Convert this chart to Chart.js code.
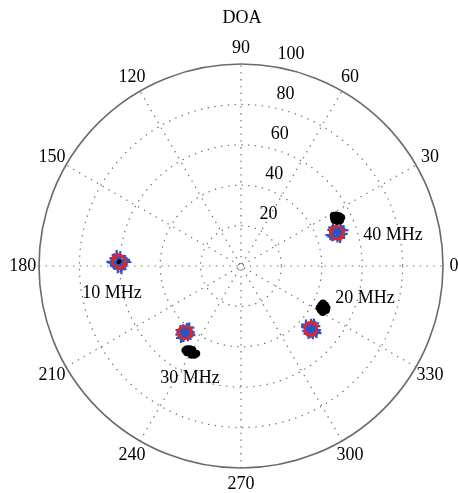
<!DOCTYPE html>
<html>
<head>
<meta charset="utf-8">
<script src="https://cdn.jsdelivr.net/npm/chart.js@4/dist/chart.umd.min.js"></script>
<style>
  html, body { margin: 0; padding: 0; background: #fff; }
  #wrap { width: 458px; height: 493px; position: relative; }
</style>
</head>
<body>
<div id="wrap"><canvas id="doaChart"></canvas></div>
<script>
// Data: [angle in degrees, radius]
const angleTicks = [0, 30, 60, 90, 120, 150, 180, 210, 240, 270, 300, 330];
const ringTicks = [20, 40, 60, 80, 100];

// blue '+' estimates
const bluePts = [
    [178, 60.4], [176, 61.5], [180, 59], [177, 58], [179.5, 62.5], [175.5, 60],
    [181, 61], [178.5, 63.5], [177, 57.5], [180.5, 59.5], [176.5, 62.8], [179, 58.6],
    [175, 61.8], [181.5, 59.2], [178, 56.8], [178.2, 64.2],
    [19, 50.3], [17, 51.5], [21, 49.5], [18, 48], [20.5, 52.5], [16.5, 49.8],
    [22, 51], [19.5, 53], [18, 47.5], [21.5, 48.6], [17.5, 52.8], [20, 50.8],
    [15.8, 51], [22.6, 49.4], [19, 46.8], [19.2, 53.8],
    [318, 46.6], [316, 47.8], [320, 45.5], [317, 44.5], [319.5, 48.8], [315.5, 46],
    [321, 47.3], [318.5, 49.2], [317, 44], [320.5, 45], [316.5, 49], [319, 46.9],
    [314.8, 47.4], [321.8, 46], [318, 43.3], [318.4, 50],
    [230, 43], [228, 44.2], [232, 42], [229, 41], [231, 45.2], [227.5, 42.5],
    [233, 43.6], [230.5, 45.6], [229, 40.5], [232.5, 41.5], [228.5, 45.3], [231, 43.3],
    [226.6, 43.6], [233.8, 42.4], [230, 39.8], [230.2, 46.4]
];

// red 'o' true directions
const redPts = [
    [178, 60.4], [177.5, 60.8], [178.5, 60],
    [19, 50.3], [18.5, 50.6], [19.5, 50],
    [318, 46.6], [317.5, 46.9], [318.5, 46.3],
    [230, 43], [229.5, 43.3], [230.5, 42.7]
];

// black raw estimates
const blackPts = [
    [178.3, 60.6], [177.8, 60.2],
    [26.6, 53], [25, 52.6], [28, 53.4], [26.2, 51.5], [27, 54.6], [24.6, 54], [28.6, 52.2], [25.8, 55.2], [27.6, 51.8],
    [333, 45.6], [331, 45.2], [335, 46], [332, 44], [334, 47.2], [330.5, 46.5], [335.5, 44.6], [332.5, 47.5], [333.8, 44.2],
    [239.8, 49.3], [237, 49], [242.5, 49.6], [238.5, 48.2], [241, 50.4], [236.5, 50], [243, 48.6], [240, 48], [238, 50.5]
];

const freqLabels = ["40 MHz", "20 MHz", "10 MHz", "30 MHz"];
const freqAt = [[75.2, 15.3], [61.4, -15.8], [-63.9, -13.4], [-25.2, -55.4]];

const FONT = '18px "Liberation Serif", "Times New Roman", serif';

function toXY(pts) {
    return pts.map(p => {
        const a = p[0] * Math.PI / 180;
        return { x: p[1] * Math.cos(a), y: p[1] * Math.sin(a) };
    });
}

// polar grid + text drawn on the scatter scales
const polarGrid = {
    id: 'polarGrid',
    beforeDatasetsDraw(chart) {
        const c = chart.ctx;
        const sx = chart.scales.x, sy = chart.scales.y;
        const cx = sx.getPixelForValue(0), cy = sy.getPixelForValue(0);
        const R = sx.getPixelForValue(100) - cx;
        c.save();
        c.strokeStyle = '#666';
        c.lineWidth = 1.2;
        c.setLineDash([1.3, 5.5]);
        ringTicks.slice(0, -1).forEach(r => {
            c.beginPath();
            c.arc(cx, cy, R * r / 100, 0, Math.PI * 2);
            c.stroke();
        });
        for (let a = 0; a < 180; a += 30) {
            const t = a * Math.PI / 180;
            c.beginPath();
            c.moveTo(cx - R * Math.cos(t), cy + R * Math.sin(t));
            c.lineTo(cx + R * Math.cos(t), cy - R * Math.sin(t));
            c.stroke();
        }
        c.setLineDash([]);
        c.strokeStyle = '#6b6b6b';
        c.lineWidth = 1.6;
        c.beginPath();
        c.arc(cx, cy, R, 0, Math.PI * 2);
        c.stroke();
        c.restore();
    },
    afterDraw(chart) {
        const c = chart.ctx;
        const sx = chart.scales.x, sy = chart.scales.y;
        const cx = sx.getPixelForValue(0), cy = sy.getPixelForValue(0);
        c.save();
        c.font = FONT;
        c.fillStyle = '#000';
        c.textAlign = 'center';
        c.textBaseline = 'middle';
        c.fillText('DOA', cx + 1, 18);
        angleTicks.forEach(a => {
            const t = a * Math.PI / 180;
            const rr = a === 0 ? 105.5 : 108;
            c.fillText(String(a), sx.getPixelForValue(rr * Math.cos(t)), sy.getPixelForValue(rr * Math.sin(t)));
        });
        const t82 = 82 * Math.PI / 180;
        ringTicks.forEach(r => {
            c.fillText(String(r), sx.getPixelForValue(r * Math.cos(t82)) + 22, sy.getPixelForValue(r * Math.sin(t82)) - 12);
        });
        freqLabels.forEach((s, i) => {
            c.fillText(s, sx.getPixelForValue(freqAt[i][0]), sy.getPixelForValue(freqAt[i][1]));
        });
        c.restore();
    }
};

const ctx = document.getElementById('doaChart').getContext('2d');

new Chart(ctx, {
    type: 'scatter',
    data: {
        datasets: [
            {
                label: 'raw',
                data: toXY(blackPts),
                pointStyle: 'circle',
                pointRadius: (c) => c.dataIndex < 2 ? 2 : 3.8,
                backgroundColor: '#000',
                borderColor: '#000',
                borderWidth: 0,
                order: 1
            },
            {
                label: 'true',
                data: toXY(redPts),
                pointStyle: 'circle',
                pointRadius: 6.5,
                backgroundColor: 'transparent',
                borderColor: '#e0262a',
                borderWidth: 1.5,
                order: 2
            },
            {
                label: 'estimate',
                data: toXY(bluePts),
                pointStyle: 'cross',
                pointRadius: 5,
                borderColor: '#2a55c8',
                borderWidth: 2.2,
                order: 3
            }
        ]
    },
    options: {
        responsive: true,
        maintainAspectRatio: false,
        animation: false,
        layout: { padding: { left: 39, right: 15, top: 64, bottom: 25 } },
        plugins: {
            legend: { display: false },
            tooltip: { enabled: false }
        },
        scales: {
            x: { type: 'linear', min: -100, max: 100, display: false },
            y: { type: 'linear', min: -100, max: 100, display: false }
        }
    },
    plugins: [polarGrid]
});
</script>
</body>
</html>
